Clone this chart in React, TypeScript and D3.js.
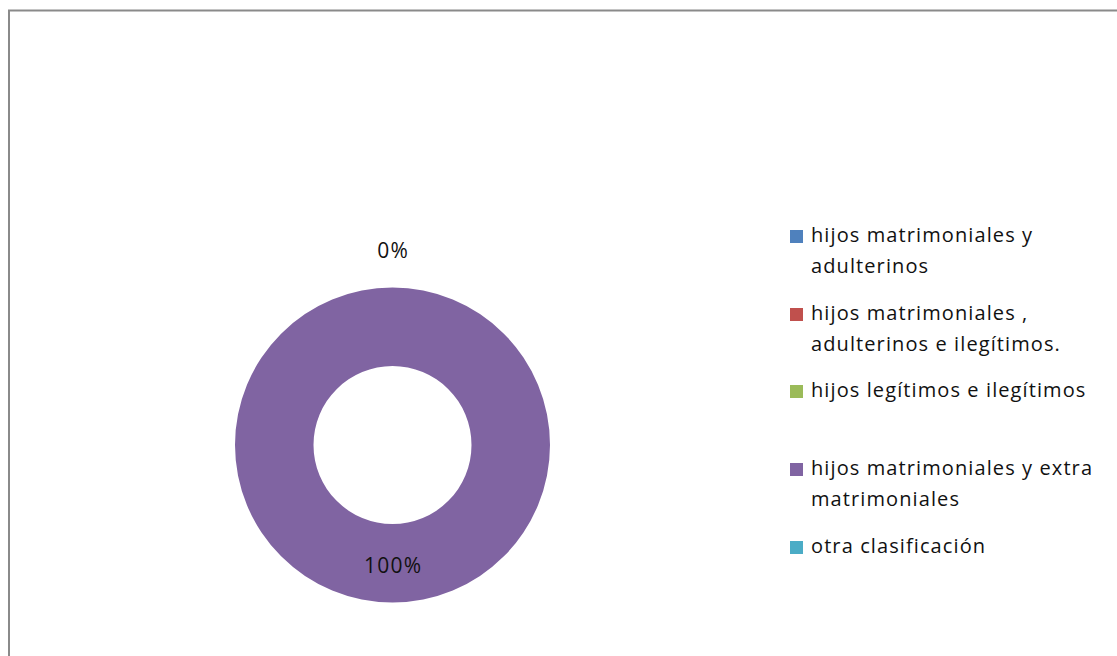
import React from "react";
import * as d3 from "d3";

const categories: string[][] = [
  ["hijos matrimoniales y", "adulterinos"],
  ["hijos matrimoniales ,", "adulterinos e ilegítimos."],
  ["hijos legítimos e ilegítimos"],
  ["hijos matrimoniales y extra", "matrimoniales"],
  ["otra clasificación"],
];
const values: number[] = [0, 0, 0, 100, 0];
const colors: string[] = ["#4F81BD", "#C0504D", "#9BBB59", "#8064A2", "#4BACC6"];
const legendTops: number[] = [242, 320, 397, 475, 553];

const W = 1117;
const H = 656;
const FONT = "'Open Sans', sans-serif";

export default function App() {
  const cx = 392.5;
  const cy = 445;
  const outerR = 157.5;
  const innerR = 79;
  const total = d3.sum(values);
  const pie = d3.pie<number>().sort(null).value((d) => d)(values);
  const arc = d3.arc<d3.PieArcDatum<number>>().innerRadius(innerR).outerRadius(outerR);
  const fmt = (v: number) => `${Math.round((v / total) * 100)}%`;

  const labels: { x: number; y: number; text: string; key: number }[] = [];
  const seen = new Set<string>();
  pie.forEach((p, i) => {
    let x: number, y: number;
    if (p.value === 0) {
      const a = p.startAngle;
      const r = outerR + 38;
      x = Math.sin(a) * r;
      y = -Math.cos(a) * r;
    } else {
      [x, y] = arc.centroid(p);
      y += 2;
    }
    const k = `${Math.round(x)},${Math.round(y)}`;
    if (seen.has(k)) return;
    seen.add(k);
    labels.push({ x, y, text: fmt(p.value), key: i });
  });

  return (
    <svg
      width={W}
      height={H}
      style={{ position: "absolute", left: 0, top: 0, background: "#fff" }}
      fontFamily={FONT}
    >
      <rect x={9} y={10.5} width={W + 20} height={H + 20} fill="#fff" stroke="#8a8a8a" strokeWidth={2} />
      <g transform={`translate(${cx},${cy})`}>
        {pie.map((p, i) =>
          p.value > 0 ? <path key={i} d={arc(p) || ""} fill={colors[i]} /> : null
        )}
        {labels.map((l) => (
          <text
            key={l.key}
            x={l.x + 0.6}
            y={l.y}
            textAnchor="middle"
            dominantBaseline="central"
            fontSize={21}
            letterSpacing={1.2}
            fill="#111"
          >
            {l.text}
          </text>
        ))}
      </g>
      <g>
        {categories.map((lines, i) => (
          <g key={i}>
            <rect x={790} y={legendTops[i] - 12} width={13} height={13} fill={colors[i]} />
            {lines.map((ln, j) => (
              <text
                key={j}
                x={811}
                y={legendTops[i] + j * 31}
                fontSize={20}
                letterSpacing={1.1}
                fill="#111"
              >
                {ln}
              </text>
            ))}
          </g>
        ))}
      </g>
    </svg>
  );
}
